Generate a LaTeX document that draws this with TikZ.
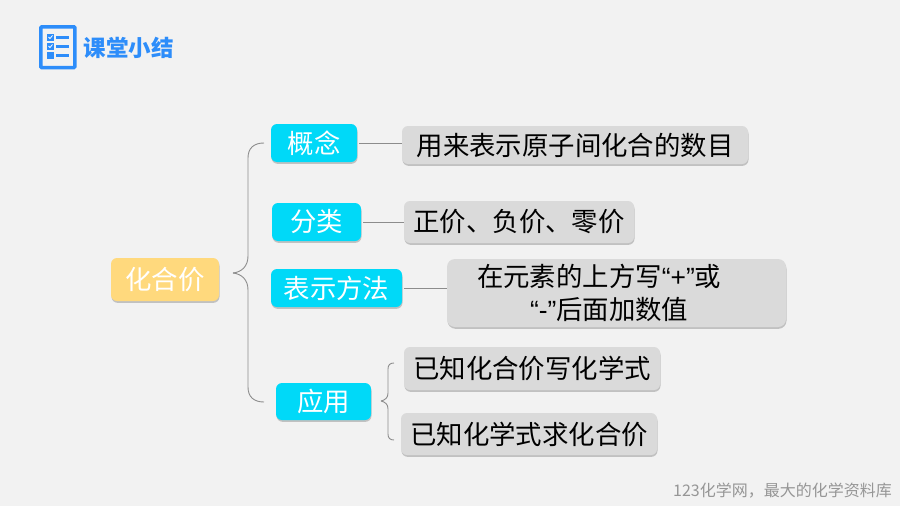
\documentclass[tikz,border=0pt]{standalone}
\usepackage{fontspec}
\setmainfont{Noto Sans CJK SC}
\newfontfamily\latinfont{Liberation Sans}
\usetikzlibrary{shadows}
\definecolor{pagebg}{RGB}{242,242,242}
\definecolor{titleblue}{RGB}{45,141,250}
\definecolor{cyanbox}{RGB}{0,217,248}
\definecolor{yellowbox}{RGB}{255,217,125}
\definecolor{graybox}{RGB}{218,218,218}
\definecolor{linegray}{RGB}{140,140,140}
\definecolor{footgray}{RGB}{150,150,150}
\tikzset{
  boxbase/.style={rounded corners=6pt,inner sep=0pt,font=\fontsize{26.4}{33}\selectfont,
    drop shadow={shadow xshift=0.5pt,shadow yshift=-1.8pt,opacity=0.2,fill=black}},
  topicbox/.style={boxbase,fill=cyanbox,text=white,minimum height=38pt},
  rootbox/.style={boxbase,fill=yellowbox,text=white,minimum width=108pt,minimum height=43pt},
  notebox/.style={boxbase,fill=graybox,text=black,minimum height=42pt},
  linkline/.style={linegray,line width=0.9pt,shorten <=2pt},
  bracket/.style={linegray,line width=0.9pt},
  iconline/.style={titleblue,line width=3pt}
}
\begin{document}
\begin{tikzpicture}[x=1pt,y=-1pt]
\useasboundingbox (0,0) rectangle (900,506);
\fill [pagebg] (0,0) rectangle (900,506);
\draw [titleblue,line width=3.6pt,rounded corners=1pt] (40.8,26.8) rectangle (74.8,67.6);
\foreach \y in {37,46}{
  \fill [titleblue] (47,\y-3.5) rectangle (54,\y+3.5);
  \draw [white,line width=0.8pt] (48.5,\y) -- (50,\y+1.5) -- (52.5,\y-1.5);
  \draw [iconline] (56,\y) -- (69,\y);
}
\fill [titleblue] (47,52) rectangle (54,58.5);
\draw [iconline] (56,55) -- (69,55);
\node (title) at (128.5,48) {\fontsize{22.5}{26}\selectfont\bfseries\color{titleblue}课堂小结};
\node [rootbox] (root) at (165,279.5) {化合价};
\node [topicbox,minimum width=86pt] (concept) at (314,143) {概念};
\node [topicbox,minimum width=89pt] (sorts) at (316.5,222) {分类};
\node [topicbox,minimum width=131pt] (notation) at (336.5,288) {表示方法};
\node [topicbox,minimum width=95pt,minimum height=37pt] (usage) at (323.5,401.5) {应用};
\node [notebox,minimum width=346pt,minimum height=38pt] (meaning) at (575,145) {用来表示原子间化合的数目};
\node [notebox,minimum width=230pt] (kinds) at (519,222) {正价、负价、零价};
\node [notebox,text width=339pt,minimum height=68pt,align=left,rounded corners=8pt] (rule) at (616.5,293)
  {\hspace*{30pt}在元素的上方写{\latinfont “+”}或\\\hspace*{83pt}{\latinfont “-”}后面加数值};
\node [notebox,minimum width=256pt,minimum height=43pt] (writeformula) at (532,368.5) {已知化合价写化学式};
\node [notebox,minimum width=256pt] (findvalence) at (529,434) {已知化学式求化合价};
\draw [linkline] (concept.east) -- (concept.east -| meaning.west);
\draw [linkline] (sorts.east) -- (kinds.west);
\draw [linkline] (notation.east) -- (notation.east -| rule.west);
\coordinate (roottip) at (233,273);
\coordinate (conceptend) at (264,143);
\coordinate (usageend) at (264,402);
\coordinate (usagetip) at (381,401);
\coordinate (writeend) at (394,363);
\coordinate (findend) at (394,440);
\draw [bracket] (conceptend) .. controls (254,143) and (248,148) .. (248,158) -- (248,256)
  .. controls (248,266) and (242,272) .. (roottip);
\draw [bracket] (usageend) .. controls (254,402) and (248,397) .. (248,387) -- (248,290)
  .. controls (248,280) and (242,274) .. (roottip);
\draw [bracket] (writeend) .. controls (390,363) and (388,365) .. (388,369) -- (388,393)
  .. controls (388,398) and (385,400) .. (usagetip);
\draw [bracket] (findend) .. controls (390,440) and (388,438) .. (388,434) -- (388,409)
  .. controls (388,404) and (385,402) .. (usagetip);
\node [text=footgray] (footer) at (782.5,491) {\fontsize{16}{19}\selectfont 123化学网，最大的化学资料库};
\end{tikzpicture}
\end{document}
